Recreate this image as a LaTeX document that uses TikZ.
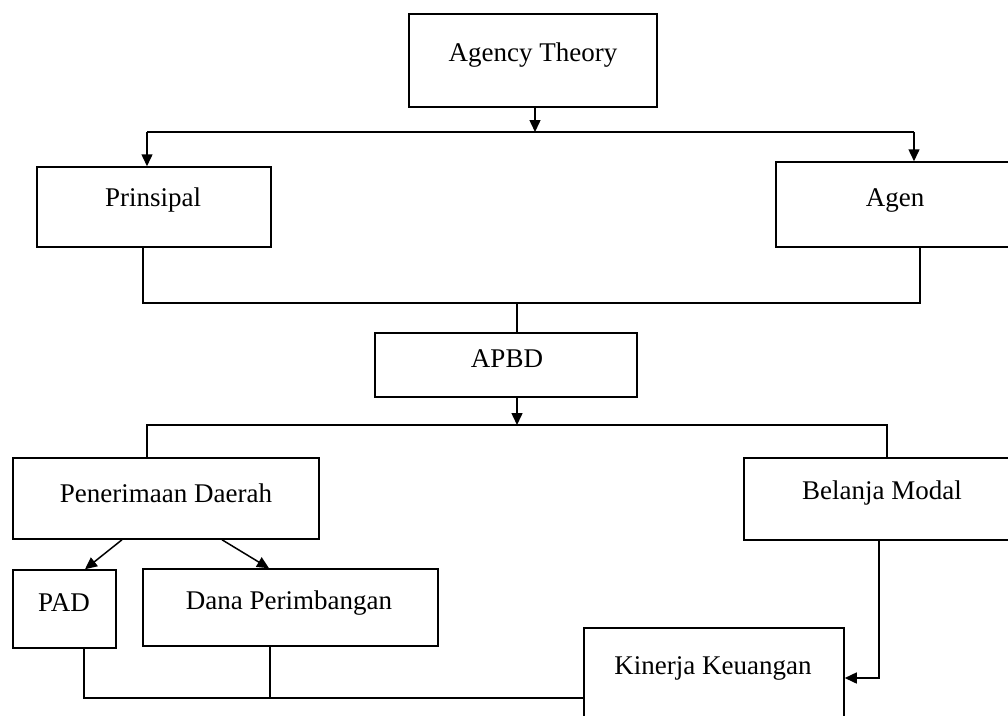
\documentclass[tikz,border=0pt]{standalone}
\usepackage{fontspec}
\setmainfont{Liberation Serif}
\usetikzlibrary{arrows.meta}
\begin{document}
\begin{tikzpicture}[x=1pt,y=-1pt,line width=1.5pt,
  box/.style={draw,line width=1.5pt,inner sep=0pt},
  lbl/.style={font=\fontsize{27}{32}\selectfont,inner sep=0pt,yshift=-2pt},
  arr/.style={-{Triangle[length=12pt,width=11pt]}}]
\clip (0,0) rectangle (1008,715);
\fill[white] (0,0) rectangle (1008,715);
% boxes
\node[box,minimum width=248pt,minimum height=93pt] (at) at (533,60.5) {};
\node[box,minimum width=234pt,minimum height=80pt] (pr) at (154,207) {};
\node[box,minimum width=244pt,minimum height=85pt] (ag) at (898,204.5) {};
\node[box,minimum width=262pt,minimum height=64pt] (ap) at (506,365) {};
\node[box,minimum width=306pt,minimum height=81pt] (pe) at (166,498.5) {};
\node[box,minimum width=276pt,minimum height=82pt] (bm) at (882,499) {};
\node[box,minimum width=103pt,minimum height=78pt] (pad) at (64.5,609) {};
\node[box,minimum width=295pt,minimum height=77pt] (dp) at (290.5,607.5) {};
\node[box,minimum width=260pt,minimum height=112pt] (ki) at (714,684) {};
% labels
\node[lbl] (at-t) at (533,53) {Agency Theory};
\node[lbl] (pr-t) at (153,198) {Prinsipal};
\node[lbl] (ag-t) at (895,198) {Agen};
\node[lbl] (ap-t) at (507,357) {APBD};
\node[lbl] (pe-t) at (166,491) {Penerimaan Daerah};
\node[lbl] (bm-t) at (882,491) {Belanja Modal};
\node[lbl] (pad-t) at (64,601) {PAD};
\node[lbl] (dp-t) at (289,601) {Dana Perimbangan};
\node[lbl] (ki-t) at (713,666) {Kinerja Keuangan};
% junction coordinates
\coordinate (j1) at (535,132);
\coordinate (j1l) at (147,132);
\coordinate (j1r) at (914,132);
\coordinate (m1) at (143,303);
\coordinate (m2) at (920,303);
\coordinate (m3) at (517,303);
\coordinate (j2) at (517,425);
\coordinate (j2l) at (147,425);
\coordinate (j2r) at (887,425);
% connectors
\draw[arr] (at.south -| j1) -- (j1);
\draw (j1l) -- (j1r);
\draw[arr] (j1l) -- (pr.north -| j1l);
\draw[arr] (j1r) -- (ag.north -| j1r);
\draw (pr.south -| m1) -- (m1) -- (m2) -- (ag.south -| m2);
\draw (m3) -- (ap.north -| m3);
\draw[arr] (ap.south -| j2) -- (j2);
\draw (pe.north -| j2l) -- (j2l) -- (j2r) -- (bm.north -| j2r);
\draw[arr] ([xshift=-44pt]pe.south) -- ([xshift=20.5pt]pad.north);
\draw[arr] ([xshift=56pt]pe.south) -- ([xshift=-21.5pt]dp.north);
\draw[arr] ([xshift=-3pt]bm.south) |- ([yshift=6pt]ki.east);
\draw ([xshift=19.5pt]pad.south) |- ([yshift=-14pt]ki.west);
\draw ([xshift=-20.5pt]dp.south) -- ++(0,52);
\end{tikzpicture}
\end{document}
